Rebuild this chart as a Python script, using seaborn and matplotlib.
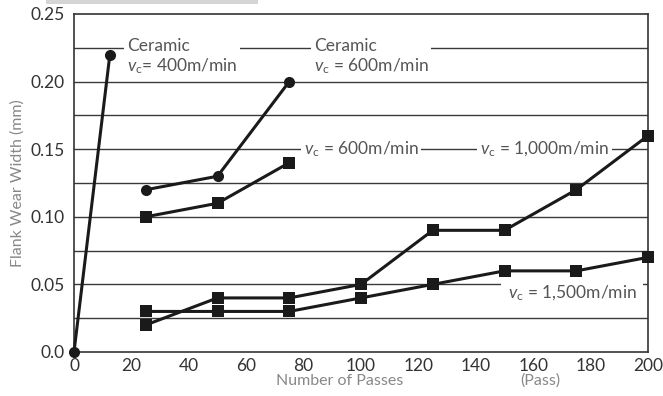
import matplotlib
matplotlib.use("Agg")
import matplotlib.pyplot as plt
import seaborn as sns
import pandas as pd
from matplotlib.patches import Rectangle

# ---- data ----
cer400_x = [0, 12.5]
cer400_y = [0.0, 0.22]
cer600_x = [25, 50, 75]
cer600_y = [0.12, 0.13, 0.20]
v600_x = [25, 50, 75]
v600_y = [0.10, 0.11, 0.14]
v1000_x = [25, 50, 75, 100, 125, 150, 175, 200]
v1000_y = [0.02, 0.04, 0.04, 0.05, 0.09, 0.09, 0.12, 0.16]
v1500_x = [25, 50, 75, 100, 125, 150, 175, 200]
v1500_y = [0.03, 0.03, 0.03, 0.04, 0.05, 0.06, 0.06, 0.07]

x_ticks = [0, 20, 40, 60, 80, 100, 120, 140, 160, 180, 200]
y_ticks = [0.0, 0.05, 0.10, 0.15, 0.20, 0.25]
y_tick_labels = ["0.0", "0.05", "0.10", "0.15", "0.20", "0.25"]

sns.set_theme(style="white")
plt.rcParams['font.family'] = ['Lato', 'DejaVu Sans']
plt.rcParams['mathtext.fontset'] = 'custom'
plt.rcParams['mathtext.rm'] = 'Lato'
plt.rcParams['mathtext.it'] = 'Lato:italic'

fig = plt.figure(figsize=(6.63, 3.96), dpi=100)
ax = fig.add_axes([74/663, 1-352/396, (648-74)/663, (352-14)/396])

# gridlines
for g in [0.025, 0.05, 0.075, 0.10, 0.125, 0.15, 0.175, 0.20, 0.225]:
    ax.axhline(g, color='#3a3a3a', lw=1.0, zorder=1)

series = [
    (cer400_x, cer400_y, 'o'),
    (cer600_x, cer600_y, 'o'),
    (v600_x, v600_y, 's'),
    (v1000_x, v1000_y, 's'),
    (v1500_x, v1500_y, 's'),
]
for xs, ys, m in series:
    df = pd.DataFrame({'x': xs, 'y': ys})
    sns.lineplot(data=df, x='x', y='y', ax=ax, color='#1a1a1a', lw=2.2,
                 marker=m, markersize=8, markeredgewidth=0, zorder=5, clip_on=False)

ax.set_xlim(0, 200)
ax.set_ylim(0, 0.25)
ax.set_xticks(x_ticks)
ax.set_xticklabels([str(t) for t in x_ticks])
ax.set_yticks(y_ticks)
ax.set_yticklabels(y_tick_labels)
ax.tick_params(axis='both', direction='in', length=5, width=1, color='#333333',
               labelsize=12.5, labelcolor='#333333')
ax.tick_params(axis='x', pad=4)
ax.tick_params(axis='y', pad=7)
for s in ax.spines.values():
    s.set_color('#333333')
    s.set_linewidth(1.2)
ax.set_xlabel("")
ax.set_ylabel("Flank Wear Width (mm)", color='#888888', fontsize=11.5, labelpad=4)

fig.text(340/663, 1-381/396, "Number of Passes", color='#888888', fontsize=11.5,
         ha='center', va='center')
fig.text(540/663, 1-381/396, "(Pass)", color='#888888', fontsize=11.5,
         ha='center', va='center')

bb = dict(facecolor='white', edgecolor='none', pad=2)
tc = '#555555'
fs = 12.5
ax.text(18.5, 0.2045, "Ceramic\n$\\it{v}_\\mathrm{c}$= 400m/min", fontsize=fs, color=tc,
        ha='left', va='bottom', bbox=bb, zorder=3, linespacing=1.15)
ax.text(83.5, 0.2045, "Ceramic\n$\\it{v}_\\mathrm{c}$ = 600m/min", fontsize=fs, color=tc,
        ha='left', va='bottom', bbox=bb, zorder=3, linespacing=1.15)
ax.text(80, 0.15, "$\\it{v}_\\mathrm{c}$ = 600m/min", fontsize=fs, color=tc,
        ha='left', va='center', bbox=bb, zorder=3)
ax.text(141.5, 0.15, "$\\it{v}_\\mathrm{c}$ = 1,000m/min", fontsize=fs, color=tc,
        ha='left', va='center', bbox=bb, zorder=3)
ax.text(196, 0.0435, "$\\it{v}_\\mathrm{c}$ = 1,500m/min", fontsize=fs, color=tc,
        ha='right', va='center', bbox=dict(facecolor='white', edgecolor='none', pad=5),
        zorder=3)

fig.patches.append(Rectangle((46/663, 1-4/396), (258-46)/663, 4/396,
                             transform=fig.transFigure, facecolor='#d5d5d5',
                             edgecolor='none', zorder=0))

fig.savefig("out.png", dpi=100)
